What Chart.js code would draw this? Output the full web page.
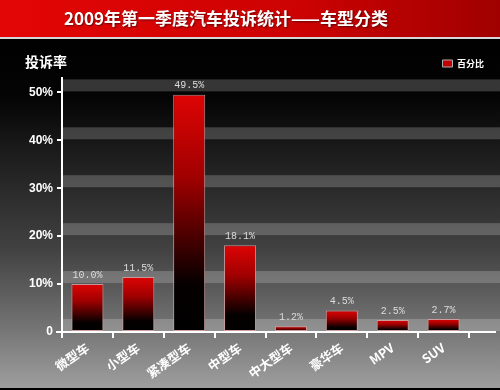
<!DOCTYPE html>
<html>
<head>
<meta charset="utf-8">
<script src="https://cdn.jsdelivr.net/npm/chart.js@4"></script>
<style>
  html, body { margin: 0; padding: 0; background: #000; }
  #wrap { width: 500px; height: 390px; }
</style>
</head>
<body>
<div id="wrap"><canvas id="complaints" width="500" height="390"></canvas></div>
<script>
const chartTitle = '2009年第一季度汽车投诉统计——车型分类';
const yTitle = '投诉率';
const seriesName = '百分比';
const categories = ['微型车', '小型车', '紧凑型车', '中型车', '中大型车', '豪华车', 'MPV', 'SUV'];
const shares = [10.0, 11.5, 49.5, 18.1, 1.2, 4.5, 2.5, 2.7];
const shareLabels = ['10.0%', '11.5%', '49.5%', '18.1%', '1.2%', '4.5%', '2.5%', '2.7%'];
const yTicks = [0, 10, 20, 30, 40, 50];

const cjk = "'Noto Sans CJK SC', 'Liberation Sans', sans-serif";

// red -> black gradient per bar
function barFill(context) {
    if (context.type !== 'data') return '#c00000';
    let chart = context.chart;
    if (!chart.chartArea) return '#c00000';
    let y = chart.scales.y;
    let top = y.getPixelForValue(context.parsed.y);
    let bottom = y.getPixelForValue(0);
    if (bottom - top < 1) return '#c00000';
    let g = chart.ctx.createLinearGradient(0, top, 0, bottom);
    g.addColorStop(0, '#de0404');
    g.addColorStop(0.35, '#a00000');
    g.addColorStop(0.8, '#050000');
    g.addColorStop(1, '#000000');
    return g;
}

const backdrop = {
    id: 'backdrop',
    beforeDraw(chart) {
        let ctx = chart.ctx, w = chart.width, h = chart.height;
        ctx.save();
        let bg = ctx.createLinearGradient(0, 40, 0, h);
        bg.addColorStop(0, '#000000');
        bg.addColorStop(0.17, '#050505');
        bg.addColorStop(0.31, '#1a1a1a');
        bg.addColorStop(0.6, '#424242');
        bg.addColorStop(0.83, '#767676');
        bg.addColorStop(1, '#a0a0a0');
        ctx.fillStyle = bg;
        ctx.fillRect(0, 0, w, h);

        // red banner
        let red = ctx.createLinearGradient(0, 0, w, 0);
        red.addColorStop(0, '#e40606');
        red.addColorStop(0.6, '#cc0202');
        red.addColorStop(1, '#a00000');
        ctx.fillStyle = red;
        ctx.fillRect(0, 0, w, 37);
        ctx.fillStyle = '#d6d6d6';
        ctx.fillRect(0, 37, w, 2);
        ctx.fillStyle = '#000';
        ctx.fillRect(0, 39, w, 3);
        ctx.fillRect(0, h - 2, w, 2);

        ctx.font = 'bold 17px ' + cjk;
        ctx.fillStyle = '#ffffff';
        ctx.textAlign = 'center';
        ctx.textBaseline = 'middle';
        ctx.shadowColor = 'rgba(0,0,0,0.5)';
        ctx.shadowBlur = 2;
        ctx.shadowOffsetX = 1;
        ctx.shadowOffsetY = 1;
        ctx.fillText(chartTitle, 226, 19);
        ctx.restore();
    },
    beforeDatasetsDraw(chart) {
        // grey bands sitting on top of each tick
        let ctx = chart.ctx, area = chart.chartArea, y = chart.scales.y;
        ctx.save();
        ctx.fillStyle = 'rgba(255,255,255,0.2)';
        y.ticks.forEach(t => {
            let py = y.getPixelForValue(t.value);
            ctx.fillRect(area.left + 1, py - 13, chart.width - area.left, 12);
        });
        ctx.restore();
    },
    afterDatasetsDraw(chart) {
        let ctx = chart.ctx, area = chart.chartArea;
        let meta = chart.getDatasetMeta(0);
        ctx.save();
        ctx.font = "10px 'Liberation Mono', monospace";
        ctx.fillStyle = '#dcdcdc';
        ctx.textAlign = 'center';
        ctx.textBaseline = 'bottom';
        meta.data.forEach((bar, i) => {
            ctx.fillText(shareLabels[i], bar.x, bar.y - 4);
        });

        // axis line runs on past the last category
        ctx.strokeStyle = '#ffffff';
        ctx.lineWidth = 2;
        ctx.beginPath();
        ctx.moveTo(area.right, area.bottom);
        ctx.lineTo(chart.width - 4, area.bottom);
        ctx.moveTo(area.left - 6, area.bottom);
        ctx.lineTo(area.left, area.bottom);
        ctx.stroke();

        ctx.font = 'bold 14px ' + cjk;
        ctx.fillStyle = '#ffffff';
        ctx.textAlign = 'left';
        ctx.textBaseline = 'middle';
        ctx.fillText(yTitle, 25, 62);
        ctx.restore();
    }
};

new Chart('complaints', {
    type: 'bar',
    data: {
        labels: categories,
        datasets: [{
            label: seriesName,
            data: shares,
            backgroundColor: barFill,
            borderColor: 'rgba(215,160,160,0.85)',
            borderWidth: 1,
            borderSkipped: false,
            categoryPercentage: 1.0,
            barPercentage: 0.63,
            yAxisID: 'y'
        }]
    },
    options: {
        responsive: false,
        animation: false,
        devicePixelRatio: 1,
        layout: {
            padding: { top: 51, left: 17, right: 8, bottom: 2 }
        },
        plugins: {
            title: { display: false },
            tooltip: { enabled: false },
            legend: {
                display: true,
                position: 'top',
                align: 'end',
                labels: {
                    color: '#ffffff',
                    boxWidth: 10,
                    boxHeight: 7,
                    padding: 8,
                    font: { size: 9, weight: 'bold', family: cjk },
                    generateLabels: function(chart) {
                        return [{
                            text: seriesName,
                            fillStyle: '#c00000',
                            strokeStyle: '#b0b0b0',
                            lineWidth: 1,
                            fontColor: '#ffffff',
                            datasetIndex: 0
                        }];
                    }
                }
            }
        },
        scales: {
            x: {
                offset: true,
                grid: {
                    offset: true,
                    drawOnChartArea: false,
                    drawTicks: true,
                    tickLength: 6,
                    color: '#ffffff',
                    lineWidth: 2
                },
                border: { display: true, color: '#ffffff', width: 2 },
                ticks: {
                    color: '#ffffff',
                    maxRotation: 35,
                    minRotation: 35,
                    padding: 2,
                    font: { size: 12.5, weight: 'bold', family: cjk }
                },
                afterFit: function(scale) {
                    scale.height = 56;
                }
            },
            y: {
                position: 'left',
                min: 0,
                max: 53,
                grid: {
                    drawOnChartArea: false,
                    drawTicks: true,
                    tickLength: 5,
                    color: '#ffffff',
                    lineWidth: 2
                },
                border: { display: true, color: '#ffffff', width: 2 },
                ticks: {
                    color: '#ffffff',
                    padding: 4,
                    font: { size: 12, weight: 'bold', family: "'Liberation Sans', Arial, sans-serif" },
                    callback: function(value) {
                        return value === 0 ? '0' : value + '%';
                    }
                },
                afterBuildTicks: function(scale) {
                    scale.ticks = yTicks.map(v => ({ value: v }));
                },
                afterFit: function(scale) {
                    scale.width = 45;
                }
            },
            spacer: {
                type: 'linear',
                position: 'right',
                display: true,
                grid: { display: false, drawTicks: false },
                border: { display: false },
                ticks: { display: false },
                afterFit: function(scale) {
                    scale.width = 23;
                }
            }
        }
    },
    plugins: [backdrop]
});
</script>
</body>
</html>
